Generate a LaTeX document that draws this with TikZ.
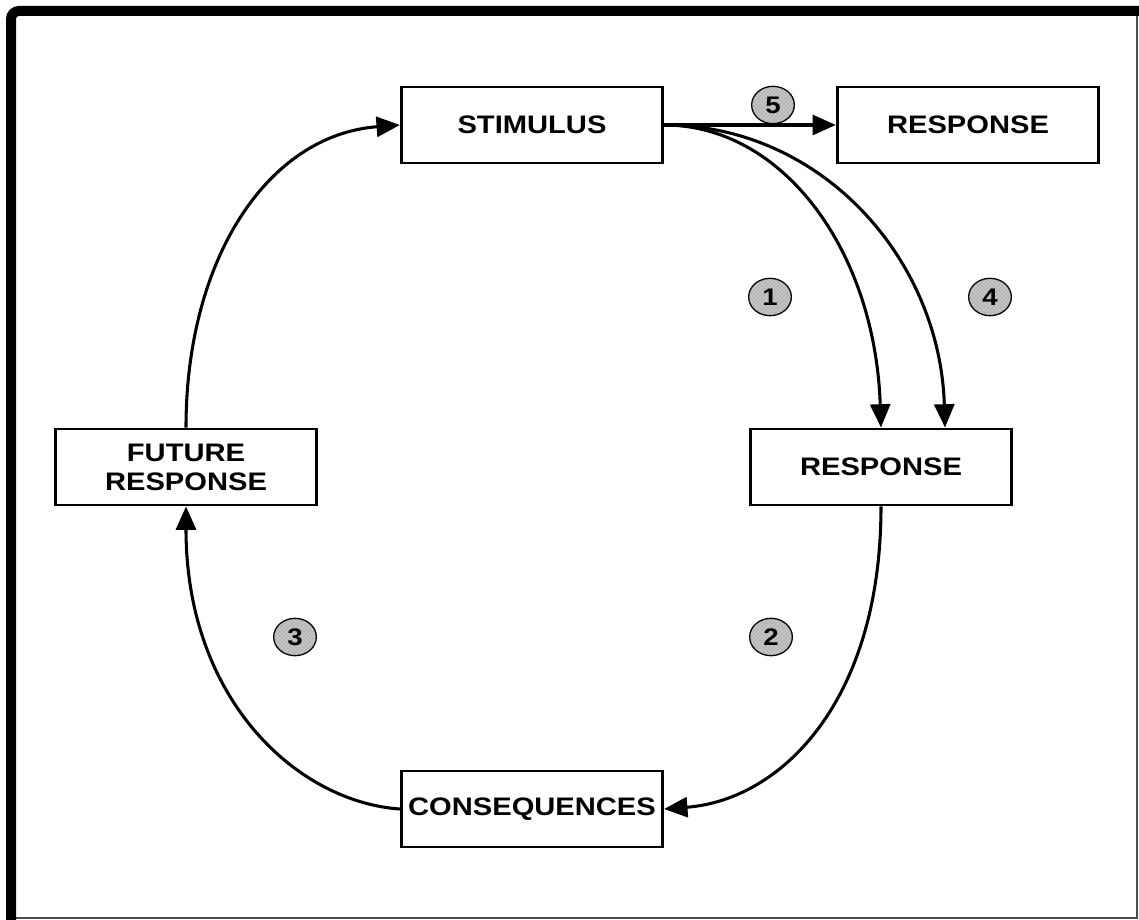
\documentclass[tikz,border=0pt]{standalone}
\usepackage{fontspec}
\newfontfamily\lbl{Liberation Sans}[FakeStretch=1.15]
\usetikzlibrary{arrows.meta,shapes.geometric,calc,patterns}

\begin{document}
\begin{tikzpicture}[x=0.75pt,y=-0.75pt,
  box/.style={draw,line width=2.2pt,minimum width=196pt,minimum height=57pt,
    inner sep=0pt,align=center,font=\lbl\bfseries\fontsize{19}{21.75}\selectfont},
  badge/.style={ellipse,draw,line width=1pt,fill=black!22,
    postaction={pattern=crosshatch dots,pattern color=black!55},
    minimum width=32pt,minimum height=28pt,inner sep=0pt,
    font=\lbl\bfseries\fontsize{18}{18}\selectfont},
  link/.style={line width=2.3pt,-{Triangle[length=17.5pt,width=15pt]}}]

\useasboundingbox (0,0) rectangle (1139,920);

% frame: heavy top/left edge, light right/bottom edge
\draw[black!70,line width=1.5pt] (1137,11) -- (1137,918) -- (11,918);
\draw[line width=7.5pt,rounded corners=6pt] (11,925) -- (11,11) -- (1145,11);

% boxes
\node[box] (stim) at (532,125) {STIMULUS};
\node[box] (resp5) at (968,125) {RESPONSE};
\node[box] (resp) at (881,467) {RESPONSE};
\node[box] (cons) at (532,809) {CONSEQUENCES};
\node[box] (fut) at (186,467) {FUTURE\\RESPONSE};

% numbered markers
\node[badge] (b5) at (773,105) {5};
\node[badge] (b1) at (770,297) {1};
\node[badge] (b4) at (990,297) {4};
\node[badge] (b3) at (295,637) {3};
\node[badge] (b2) at (771,637) {2};

\coordinate (r4) at ($(resp.north)+(64,0)$);

% connectors
\draw[link] (stim.east) -- (resp5.west);
\draw[link] (stim.east) .. controls +(118,0) and +(-6,-178) .. (resp.north);
\draw[link] (stim.east) .. controls +(158,0) and +(-5,-168) .. (r4);
\draw[link] (resp.south) .. controls +(0,195) and +(117,-9) .. (cons.east);
\draw[link] (cons.west) .. controls +(-102,-7) and +(0,194) .. (fut.south);
\draw[link] (fut.north) .. controls +(0,-169) and +(-132,10) .. (stim.west);

\end{tikzpicture}
\end{document}
